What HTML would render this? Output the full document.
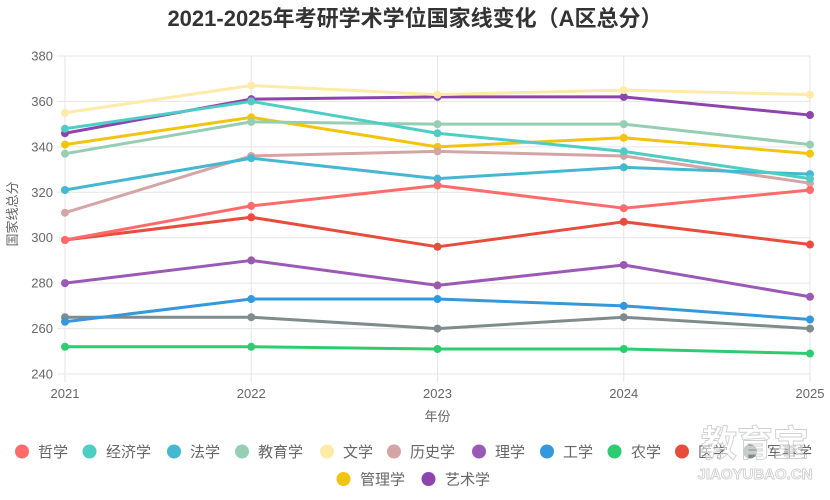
<!DOCTYPE html>
<html><head><meta charset="utf-8"><style>
html,body{margin:0;padding:0;background:#fff;}
svg{display:block;font-family:"Liberation Sans","Noto Sans CJK SC",sans-serif;}
</style></head><body>
<svg width="830" height="500" viewBox="0 0 830 500" xmlns="http://www.w3.org/2000/svg">
<rect width="830" height="500" fill="#fff"/>
<text x="415" y="26" text-anchor="middle" font-size="22" font-weight="bold" fill="#333">2021-2025年考研学术学位国家线变化（A区总分）</text>
<g stroke="#e5e5e5" stroke-width="1">
<line x1="57" y1="56" x2="810" y2="56"/>
<line x1="57" y1="101.43" x2="810" y2="101.43"/>
<line x1="57" y1="146.86" x2="810" y2="146.86"/>
<line x1="57" y1="192.29" x2="810" y2="192.29"/>
<line x1="57" y1="237.71" x2="810" y2="237.71"/>
<line x1="57" y1="283.14" x2="810" y2="283.14"/>
<line x1="57" y1="328.57" x2="810" y2="328.57"/>
<line x1="57" y1="374" x2="810" y2="374"/>
<line x1="65" y1="56" x2="65" y2="382"/>
<line x1="251.25" y1="56" x2="251.25" y2="382"/>
<line x1="437.5" y1="56" x2="437.5" y2="382"/>
<line x1="623.75" y1="56" x2="623.75" y2="382"/>
<line x1="810" y1="56" x2="810" y2="382"/>
</g>
<g font-size="13" fill="#666" text-anchor="end">
<text x="53" y="60.5">380</text>
<text x="53" y="105.9">360</text>
<text x="53" y="151.4">340</text>
<text x="53" y="196.8">320</text>
<text x="53" y="242.2">300</text>
<text x="53" y="287.6">280</text>
<text x="53" y="333.1">260</text>
<text x="53" y="378.5">240</text>
</g>
<g font-size="13" fill="#666" text-anchor="middle">
<text x="65" y="398">2021</text>
<text x="251.25" y="398">2022</text>
<text x="437.5" y="398">2023</text>
<text x="623.75" y="398">2024</text>
<text x="810" y="398">2025</text>
<text x="437.5" y="421">年份</text>
<text transform="translate(17,214) rotate(-90)">国家线总分</text>
</g>
<g fill="none" stroke-width="3" stroke-linejoin="round">
<!-- drawn in reverse order: last dataset first -->
<polyline stroke="#8e44ad" points="65,133.23 251.25,99.16 437.5,96.89 623.75,96.89 810,115.06"/>
<polyline stroke="#f1c40f" points="65,144.59 251.25,117.33 437.5,146.86 623.75,137.77 810,153.67"/>
<polyline stroke="#7f8c8d" points="65,317.21 251.25,317.21 437.5,328.57 623.75,317.21 810,328.57"/>
<polyline stroke="#e74c3c" points="65,239.99 251.25,217.27 437.5,246.80 623.75,221.81 810,244.53"/>
<polyline stroke="#2ecc71" points="65,346.74 251.25,346.74 437.5,349.01 623.75,349.01 810,353.56"/>
<polyline stroke="#3498db" points="65,321.76 251.25,299.04 437.5,299.04 623.75,305.86 810,319.49"/>
<polyline stroke="#9b59b6" points="65,283.14 251.25,260.43 437.5,285.41 623.75,264.97 810,296.77"/>
<polyline stroke="#d4a5a5" points="65,212.73 251.25,155.94 437.5,151.40 623.75,155.94 810,183.20"/>
<polyline stroke="#ffeaa7" points="65,112.79 251.25,85.53 437.5,94.61 623.75,90.07 810,94.61"/>
<polyline stroke="#96ceb4" points="65,153.67 251.25,121.87 437.5,124.14 623.75,124.14 810,144.59"/>
<polyline stroke="#45b7d1" points="65,190.01 251.25,158.21 437.5,178.66 623.75,167.30 810,174.11"/>
<polyline stroke="#4ecdc4" points="65,128.69 251.25,101.43 437.5,133.23 623.75,151.40 810,178.66"/>
<polyline stroke="#ff6b6b" points="65,239.99 251.25,205.91 437.5,185.47 623.75,208.19 810,190.01"/>
</g>
<g>
<g fill="#8e44ad"><circle cx="65" cy="133.23" r="4"/><circle cx="251.25" cy="99.16" r="4"/><circle cx="437.5" cy="96.89" r="4"/><circle cx="623.75" cy="96.89" r="4"/><circle cx="810" cy="115.06" r="4"/></g>
<g fill="#f1c40f"><circle cx="65" cy="144.59" r="4"/><circle cx="251.25" cy="117.33" r="4"/><circle cx="437.5" cy="146.86" r="4"/><circle cx="623.75" cy="137.77" r="4"/><circle cx="810" cy="153.67" r="4"/></g>
<g fill="#7f8c8d"><circle cx="65" cy="317.21" r="4"/><circle cx="251.25" cy="317.21" r="4"/><circle cx="437.5" cy="328.57" r="4"/><circle cx="623.75" cy="317.21" r="4"/><circle cx="810" cy="328.57" r="4"/></g>
<g fill="#e74c3c"><circle cx="65" cy="239.99" r="4"/><circle cx="251.25" cy="217.27" r="4"/><circle cx="437.5" cy="246.80" r="4"/><circle cx="623.75" cy="221.81" r="4"/><circle cx="810" cy="244.53" r="4"/></g>
<g fill="#2ecc71"><circle cx="65" cy="346.74" r="4"/><circle cx="251.25" cy="346.74" r="4"/><circle cx="437.5" cy="349.01" r="4"/><circle cx="623.75" cy="349.01" r="4"/><circle cx="810" cy="353.56" r="4"/></g>
<g fill="#3498db"><circle cx="65" cy="321.76" r="4"/><circle cx="251.25" cy="299.04" r="4"/><circle cx="437.5" cy="299.04" r="4"/><circle cx="623.75" cy="305.86" r="4"/><circle cx="810" cy="319.49" r="4"/></g>
<g fill="#9b59b6"><circle cx="65" cy="283.14" r="4"/><circle cx="251.25" cy="260.43" r="4"/><circle cx="437.5" cy="285.41" r="4"/><circle cx="623.75" cy="264.97" r="4"/><circle cx="810" cy="296.77" r="4"/></g>
<g fill="#d4a5a5"><circle cx="65" cy="212.73" r="4"/><circle cx="251.25" cy="155.94" r="4"/><circle cx="437.5" cy="151.40" r="4"/><circle cx="623.75" cy="155.94" r="4"/><circle cx="810" cy="183.20" r="4"/></g>
<g fill="#ffeaa7"><circle cx="65" cy="112.79" r="4"/><circle cx="251.25" cy="85.53" r="4"/><circle cx="437.5" cy="94.61" r="4"/><circle cx="623.75" cy="90.07" r="4"/><circle cx="810" cy="94.61" r="4"/></g>
<g fill="#96ceb4"><circle cx="65" cy="153.67" r="4"/><circle cx="251.25" cy="121.87" r="4"/><circle cx="437.5" cy="124.14" r="4"/><circle cx="623.75" cy="124.14" r="4"/><circle cx="810" cy="144.59" r="4"/></g>
<g fill="#45b7d1"><circle cx="65" cy="190.01" r="4"/><circle cx="251.25" cy="158.21" r="4"/><circle cx="437.5" cy="178.66" r="4"/><circle cx="623.75" cy="167.30" r="4"/><circle cx="810" cy="174.11" r="4"/></g>
<g fill="#4ecdc4"><circle cx="65" cy="128.69" r="4"/><circle cx="251.25" cy="101.43" r="4"/><circle cx="437.5" cy="133.23" r="4"/><circle cx="623.75" cy="151.40" r="4"/><circle cx="810" cy="178.66" r="4"/></g>
<g fill="#ff6b6b"><circle cx="65" cy="239.99" r="4"/><circle cx="251.25" cy="205.91" r="4"/><circle cx="437.5" cy="185.47" r="4"/><circle cx="623.75" cy="208.19" r="4"/><circle cx="810" cy="190.01" r="4"/></g>
</g>
<!-- legend -->
<g font-size="15" fill="#666">
<circle cx="22" cy="451.5" r="7" fill="#ff6b6b"/><text x="38" y="457">哲学</text>
<circle cx="89.5" cy="451.5" r="7" fill="#4ecdc4"/><text x="106" y="457">经济学</text>
<circle cx="174" cy="451.5" r="7" fill="#45b7d1"/><text x="190" y="457">法学</text>
<circle cx="242" cy="451.5" r="7" fill="#96ceb4"/><text x="258" y="457">教育学</text>
<circle cx="327" cy="451.5" r="7" fill="#ffeaa7"/><text x="343" y="457">文学</text>
<circle cx="394" cy="451.5" r="7" fill="#d4a5a5"/><text x="410" y="457">历史学</text>
<circle cx="479" cy="451.5" r="7" fill="#9b59b6"/><text x="495" y="457">理学</text>
<circle cx="547" cy="451.5" r="7" fill="#3498db"/><text x="563" y="457">工学</text>
<circle cx="614.5" cy="451.5" r="7" fill="#2ecc71"/><text x="631" y="457">农学</text>
<circle cx="682" cy="451.5" r="7" fill="#e74c3c"/><text x="698" y="457">医学</text>
<circle cx="750" cy="451.5" r="7" fill="#7f8c8d"/><text x="767" y="457">军事学</text>
<circle cx="343.5" cy="479" r="7" fill="#f1c40f"/><text x="360" y="484.5">管理学</text>
<circle cx="428.5" cy="479" r="7" fill="#8e44ad"/><text x="445" y="484.5">艺术学</text>
</g>
<!-- watermark -->
<g fill="rgba(255,255,255,0.55)" stroke="#cfcfcf" stroke-width="0.9">
<text x="755" y="456" text-anchor="middle" font-size="36" font-weight="bold">教育宝</text>
<text x="755" y="479" text-anchor="middle" font-size="15" font-weight="bold">JIAOYUBAO.CN</text>
</g>
</svg>
</body></html>
